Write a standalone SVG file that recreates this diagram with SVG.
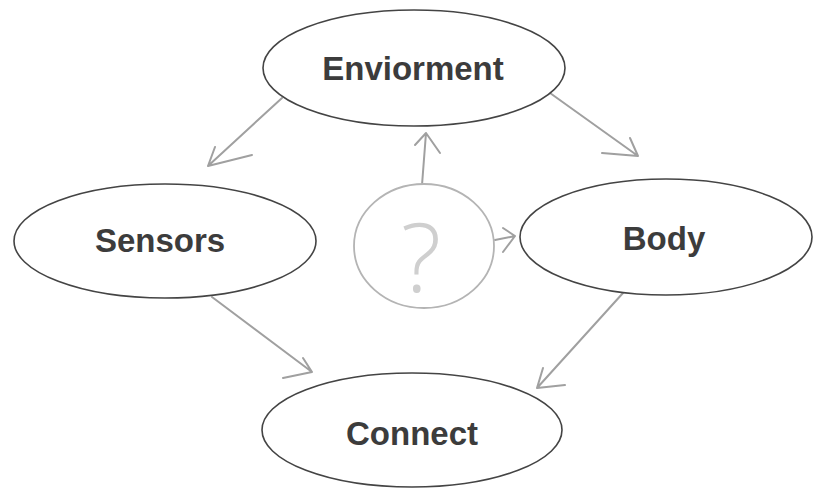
<svg xmlns="http://www.w3.org/2000/svg" width="816" height="488" viewBox="0 0 816 488">
<style>
.node{fill:#fff;stroke:#444;stroke-width:1.6}
.lbl{font-family:"Liberation Sans",Arial,sans-serif;font-weight:bold;font-size:33px;fill:#3c3c3c;text-anchor:middle}
.conn{fill:none;stroke:#a0a0a0;stroke-width:2;stroke-linecap:round;stroke-linejoin:round}
.q{fill:#fff;stroke:#b4b4b4;stroke-width:1.8}
</style>
<rect width="816" height="488" fill="#fff"/>
<g id="connectors">
<path class="conn" d="M282,98 L208,166 M215,147 L208,166 L252,155"/>
<path class="conn" d="M550,93 L638,156 M630,138 L638,156 L602,153"/>
<path class="conn" d="M422,185 L426,133 M415,145 L426,133 L440,153"/>
<path class="conn" d="M495,240 L515,236 M503,228 L515,236 L503,252"/>
<path class="conn" d="M212,297 L312,372 M303,358 L312,372 L283,378"/>
<path class="conn" d="M623,293 L537,388 M543,368 L537,388 L565,385"/>
</g>
<g id="enviorment">
<ellipse class="node" cx="414" cy="68" rx="151" ry="58"/>
<text class="lbl" x="413" y="80">Enviorment</text>
</g>
<g id="sensors">
<ellipse class="node" cx="165" cy="241" rx="151" ry="57"/>
<text class="lbl" x="160" y="252">Sensors</text>
</g>
<g id="body">
<ellipse class="node" cx="666" cy="237" rx="146" ry="58"/>
<text class="lbl" x="664" y="250">Body</text>
</g>
<g id="connect">
<ellipse class="node" cx="412" cy="430" rx="150" ry="57"/>
<text class="lbl" x="412" y="445">Connect</text>
</g>
<g id="question">
<ellipse class="q" cx="424" cy="246" rx="70" ry="62"/>
<text x="421" y="292" font-family="'Open Sans','DejaVu Sans',sans-serif" font-weight="300" font-size="96" fill="#cfcfcf" text-anchor="middle">?</text>
</g>
</svg>
